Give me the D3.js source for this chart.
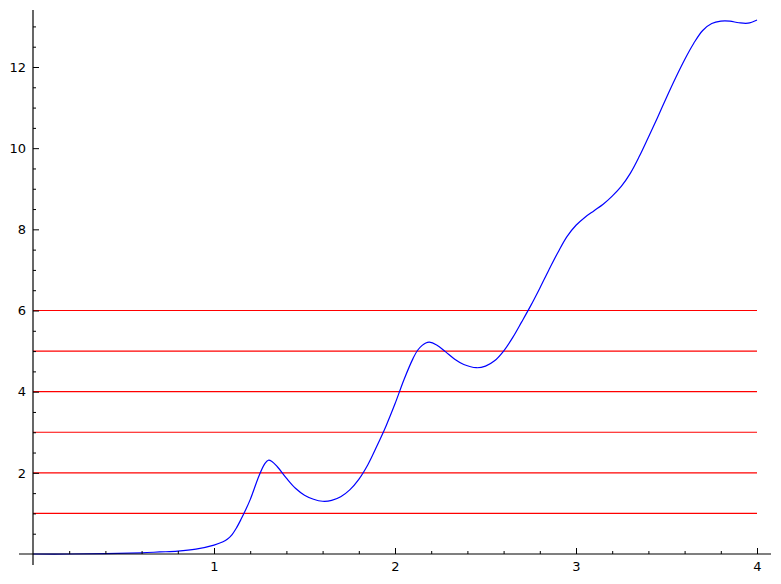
<!DOCTYPE html>
<html>
<head>
<meta charset="utf-8">
<script src="https://cdn.jsdelivr.net/npm/d3@7"></script>
<style>
  html, body { margin: 0; padding: 0; background: #fff; }
  svg { display: block; }
  .tick text { font-family: "DejaVu Sans", sans-serif; font-size: 13px; fill: #000; }
</style>
</head>
<body>
<svg id="chart" width="781" height="584"></svg>
<script>
// ---- data ----
const curveX = [0.0, 0.2, 0.4, 0.6, 0.7, 0.8, 0.9, 1.0, 1.05, 1.075, 1.10, 1.125, 1.15, 1.175, 1.20, 1.25, 1.28, 1.30, 1.32, 1.35, 1.40, 1.45, 1.50, 1.55, 1.60, 1.65, 1.70, 1.75, 1.80, 1.85, 1.90, 1.95, 2.00, 2.05, 2.10, 2.125, 2.15, 2.17, 2.19, 2.23, 2.28, 2.33, 2.38, 2.45, 2.50, 2.55, 2.60, 2.65, 2.70, 2.75, 2.80, 2.85, 2.90, 2.95, 3.00, 3.05, 3.10, 3.15, 3.20, 3.25, 3.30, 3.35, 3.40, 3.45, 3.50, 3.55, 3.60, 3.65, 3.70, 3.75, 3.80, 3.85, 3.90, 3.95, 4.0];
const curveY = [0.0, 0.0, 0.01, 0.03, 0.05, 0.07, 0.12, 0.22, 0.30, 0.37, 0.48, 0.65, 0.86, 1.09, 1.34, 1.94, 2.22, 2.31, 2.28, 2.15, 1.87, 1.62, 1.45, 1.35, 1.30, 1.32, 1.41, 1.58, 1.84, 2.2, 2.66, 3.15, 3.7, 4.3, 4.82, 5.02, 5.14, 5.20, 5.22, 5.15, 4.98, 4.8, 4.67, 4.59, 4.63, 4.76, 5.0, 5.33, 5.72, 6.12, 6.55, 7.0, 7.43, 7.82, 8.10, 8.30, 8.46, 8.62, 8.82, 9.06, 9.38, 9.80, 10.27, 10.75, 11.25, 11.73, 12.18, 12.58, 12.90, 13.07, 13.13, 13.13, 13.09, 13.08, 13.16];
const hLevels = [1, 2, 3, 4, 5, 6];
const hLineStart = 0;
const hLineEnd = 4;
const xTickLabels = [1, 2, 3, 4];
const yTickLabels = [2, 4, 6, 8, 10, 12];
const xMinorTicks = d3.range(0.2, 4.01, 0.2).filter(v => Math.abs(v - Math.round(v)) > 1e-6);
const yMinorTicks = d3.range(0.5, 13.4, 0.5).filter(v => Math.abs(v / 2 - Math.round(v / 2)) > 1e-6);

// ---- scales ----
const svg = d3.select("#chart");
const x = d3.scaleLinear().domain([0, 4]).range([33, 757]);
const y = d3.scaleLinear().domain([0, 12]).range([554, 67]);

// horizontal red lines
svg.append("g").selectAll("line").data(hLevels).join("line")
  .attr("x1", x(hLineStart)).attr("x2", x(hLineEnd))
  .attr("y1", d => y(d)).attr("y2", d => y(d))
  .attr("stroke", "#ff0000").attr("stroke-width", 1.2);

// curve
const pts = curveX.map((v, i) => [v, curveY[i]]);
svg.append("path").datum(pts)
  .attr("fill", "none").attr("stroke", "#0000ff").attr("stroke-width", 1.2)
  .attr("d", d3.line().x(d => x(d[0])).y(d => y(d[1])).curve(d3.curveCatmullRom.alpha(0.5)));

// axes lines
svg.append("line").attr("x1", 19).attr("x2", 771).attr("y1", y(0)).attr("y2", y(0))
  .attr("stroke", "#000").attr("stroke-width", 1.2);
svg.append("line").attr("x1", x(0)).attr("x2", x(0)).attr("y1", 10).attr("y2", 565)
  .attr("stroke", "#000").attr("stroke-width", 1.2);

// major ticks + labels
const xAxis = svg.append("g").attr("transform", `translate(0,${y(0)})`)
  .call(d3.axisBottom(x).tickValues(xTickLabels).tickFormat(d3.format("d"))
    .tickSizeInner(-6).tickSizeOuter(0).tickPadding(8));
xAxis.select(".domain").remove();

const yAxis = svg.append("g").attr("transform", `translate(${x(0)},0)`)
  .call(d3.axisLeft(y).tickValues(yTickLabels).tickFormat(d3.format("d"))
    .tickSizeInner(-6).tickSizeOuter(0).tickPadding(7));
yAxis.select(".domain").remove();

// minor ticks
const xMinor = svg.append("g").attr("transform", `translate(0,${y(0)})`)
  .call(d3.axisBottom(x).tickValues(xMinorTicks).tickFormat("").tickSizeInner(-3).tickSizeOuter(0));
xMinor.select(".domain").remove();
const yMinor = svg.append("g").attr("transform", `translate(${x(0)},0)`)
  .call(d3.axisLeft(y).tickValues(yMinorTicks).tickFormat("").tickSizeInner(-3).tickSizeOuter(0));
yMinor.select(".domain").remove();
</script>
</body>
</html>
